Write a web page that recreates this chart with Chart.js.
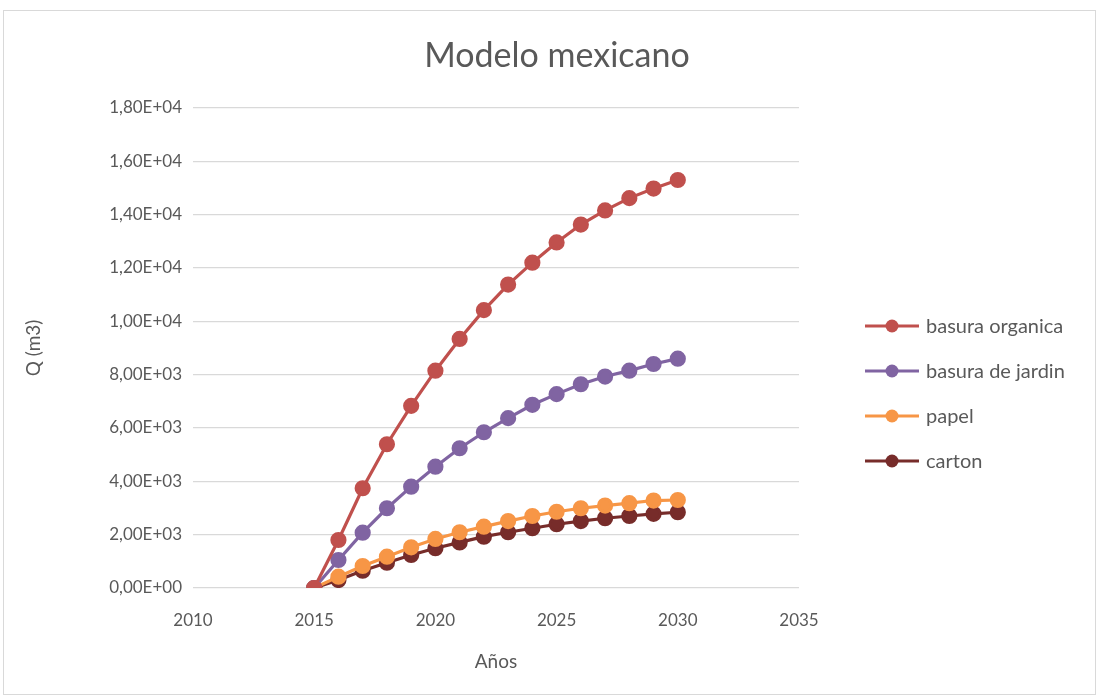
<!DOCTYPE html>
<html>
<head>
<meta charset="utf-8">
<script src="https://cdn.jsdelivr.net/npm/chart.js@4/dist/chart.umd.min.js"></script>
<style>
  html, body { margin: 0; padding: 0; background: #fff; }
  #wrap { width: 1099px; height: 698px; }
</style>
</head>
<body>
<div id="wrap"><canvas id="chart" width="1099" height="698"></canvas></div>
<script>
const years = [2015, 2016, 2017, 2018, 2019, 2020, 2021, 2022, 2023, 2024, 2025, 2026, 2027, 2028, 2029, 2030];
const organica = [0, 1800, 3740, 5390, 6830, 8150, 9340, 10420, 11380, 12200, 12960, 13630, 14160, 14620, 14980, 15300];
const jardin = [0, 1050, 2075, 2990, 3800, 4550, 5240, 5840, 6370, 6870, 7270, 7640, 7930, 8150, 8400, 8600];
const papel = [0, 425, 825, 1175, 1525, 1840, 2090, 2300, 2510, 2700, 2860, 2990, 3090, 3180, 3280, 3300];
const carton = [0, 300, 650, 950, 1240, 1490, 1710, 1925, 2090, 2240, 2390, 2510, 2615, 2700, 2780, 2840];

const seriesNames = ['basura organica', 'basura de jardin', 'papel', 'carton'];
const seriesColors = ['#C0504D', '#8064A2', '#F79646', '#772C2A'];
const seriesValues = [organica, jardin, papel, carton];

const FONT = 'Lato, "Open Sans", sans-serif';
const TEXT = '#595959';

function sci(v) {
  if (v === 0) return '0,00E+00';
  const e = Math.floor(Math.log10(Math.abs(v)));
  const m = v / Math.pow(10, e);
  const sign = e < 0 ? '-' : '+';
  return m.toFixed(2).replace('.', ',') + 'E' + sign + String(Math.abs(e)).padStart(2, '0');
}

const datasets = seriesNames.map((name, i) => ({
  label: name,
  data: years.map((x, j) => ({ x: x, y: seriesValues[i][j] })),
  borderColor: seriesColors[i],
  backgroundColor: seriesColors[i],
  borderWidth: 3.2,
  pointRadius: 6.5,
  pointHoverRadius: 6.5,
  showLine: true,
  tension: 0
}));

// title, legend and frame drawn on the canvas
const extras = {
  id: 'extras',
  beforeDraw(chart) {
    const ctx = chart.ctx;
    ctx.save();
    ctx.fillStyle = '#fff';
    ctx.fillRect(0, 0, chart.width, chart.height);
    ctx.strokeStyle = '#d9d9d9';
    ctx.lineWidth = 1;
    ctx.strokeRect(3.5, 10.5, 1092, 684);
    ctx.restore();
  },
  afterDraw(chart) {
    const ctx = chart.ctx;
    ctx.save();
    ctx.fillStyle = TEXT;
    ctx.font = '34px ' + FONT;
    ctx.textAlign = 'center';
    ctx.textBaseline = 'middle';
    ctx.fillText('Modelo mexicano', 557, 56);

    ctx.font = '20px ' + FONT;
    ctx.textAlign = 'left';
    chart.data.datasets.forEach((ds, i) => {
      const y = 326 + i * 45;
      ctx.strokeStyle = ds.borderColor;
      ctx.lineWidth = 3.2;
      ctx.beginPath();
      ctx.moveTo(865, y);
      ctx.lineTo(919, y);
      ctx.stroke();
      ctx.fillStyle = ds.backgroundColor;
      ctx.beginPath();
      ctx.arc(892, y, 6.5, 0, Math.PI * 2);
      ctx.fill();
      ctx.fillStyle = TEXT;
      ctx.fillText(ds.label, 926, y + 1);
    });
    ctx.restore();
  }
};

new Chart(document.getElementById('chart'), {
  type: 'scatter',
  data: { datasets: datasets },
  options: {
    responsive: false,
    animation: false,
    layout: { padding: { top: 108, right: 300, left: 0, bottom: 0 } },
    plugins: {
      legend: { display: false },
      title: { display: false },
      tooltip: { enabled: false }
    },
    scales: {
      x: {
        type: 'linear',
        min: 2010,
        max: 2035,
        afterFit(scale) { scale.height = 110; },
        afterBuildTicks(scale) {
          scale.ticks = [2010, 2015, 2020, 2025, 2030, 2035].map(v => ({ value: v }));
        },
        grid: { display: false, drawTicks: false },
        border: { display: false },
        ticks: {
          color: TEXT,
          font: { family: FONT, size: 17 },
          padding: 22,
          maxRotation: 0,
          callback: v => String(v)
        },
        title: {
          display: true,
          text: 'Años',
          color: TEXT,
          font: { family: FONT, size: 19 },
          padding: { top: 0, bottom: 25 }
        }
      },
      y: {
        min: 0,
        max: 18000,
        afterFit(scale) { scale.width = 193; },
        ticks: {
          stepSize: 2000,
          color: TEXT,
          font: { family: FONT, size: 17 },
          padding: 11,
          callback: v => sci(v)
        },
        grid: { color: '#d9d9d9', lineWidth: 1.3, drawTicks: false },
        border: { display: false },
        title: {
          display: true,
          text: 'Q (m3)',
          color: TEXT,
          font: { family: FONT, size: 19 },
          padding: { top: 22, bottom: 0 }
        }
      }
    }
  },
  plugins: [extras]
});
</script>
</body>
</html>
